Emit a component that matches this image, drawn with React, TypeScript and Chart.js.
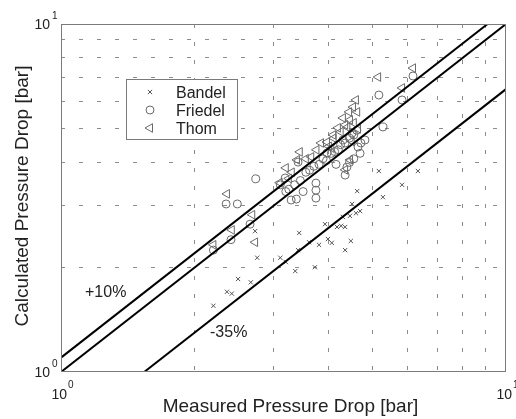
import React, { useEffect, useRef } from 'react';
import { Chart, registerables } from 'chart.js';
import { drawPoint } from 'chart.js/helpers';

Chart.register(...registerables);

// ---- Data ----
const bandelX = [2.20, 2.36, 2.42, 2.50, 2.67, 2.73, 2.76, 3.11, 3.20, 3.36, 3.72, 3.43, 3.41, 3.61, 3.80, 3.92, 3.98, 4.06, 4.17, 4.26, 4.35, 4.48, 4.35, 4.51, 4.63, 4.30, 4.46, 4.60, 4.70, 5.18, 6.34, 5.84, 5.29];
const bandelY = [1.55, 1.70, 1.68, 1.85, 1.81, 2.54, 2.13, 2.13, 2.07, 1.95, 2.00, 2.51, 2.24, 2.36, 2.32, 2.66, 2.41, 2.35, 2.61, 2.63, 2.61, 2.38, 2.24, 3.04, 3.31, 2.79, 2.81, 2.86, 2.90, 3.78, 3.78, 3.45, 3.18];

const friedelX = [2.35, 2.49, 2.74, 2.20, 2.41, 2.66, 3.38, 3.74, 3.74, 3.74, 3.41, 3.96, 4.30, 4.51, 4.82, 4.72, 4.65, 4.39, 4.35, 5.18, 5.29, 5.84, 6.18, 3.11, 3.19, 3.29, 3.25, 3.35, 3.45, 3.55, 3.62, 3.70, 3.80, 3.88, 3.95, 4.05, 4.12, 4.20, 4.25, 4.35, 4.45, 4.55, 4.62, 4.70, 4.55, 4.45, 4.15, 3.50, 3.20];
const friedelY = [3.04, 3.04, 3.59, 2.24, 2.40, 2.66, 3.14, 3.49, 3.33, 3.16, 4.01, 4.26, 4.64, 4.86, 4.64, 4.55, 4.43, 3.88, 3.68, 6.25, 5.06, 6.05, 7.09, 3.45, 3.61, 3.12, 3.35, 3.45, 3.55, 3.75, 3.80, 3.90, 3.95, 4.10, 4.05, 4.25, 4.30, 4.35, 4.50, 4.55, 4.70, 4.80, 4.95, 4.25, 4.10, 4.00, 3.95, 3.30, 3.30];

const thomX = [2.36, 2.20, 2.42, 2.69, 2.73, 3.20, 3.44, 3.39, 3.84, 3.96, 4.09, 4.19, 4.30, 4.35, 4.46, 4.53, 4.60, 4.63, 4.44, 4.35, 4.46, 5.16, 5.84, 6.18, 3.10, 3.30, 3.55, 3.65, 3.75, 4.00, 4.10, 4.25, 4.40, 4.55, 4.65, 3.25, 4.05, 4.50];
const thomY = [3.25, 2.32, 2.56, 2.83, 2.36, 3.86, 4.29, 4.07, 4.55, 4.58, 4.80, 5.03, 5.37, 5.13, 5.30, 5.77, 6.05, 5.59, 5.59, 3.81, 4.07, 7.04, 6.55, 7.47, 3.50, 3.75, 4.10, 4.15, 4.35, 4.45, 4.70, 4.90, 5.05, 5.20, 5.00, 3.60, 4.40, 4.60];

// Reference lines (+10%, exact, -35%)
const plus10X = [1, 9.09];
const plus10Y = [1.1, 10];
const exactX = [1, 10];
const exactY = [1, 10];
const minus35X = [1.538, 10];
const minus35Y = [1, 6.5];

// Axes
const axisMin = 1;
const axisMax = 10;
const gridValues = [1, 2, 3, 4, 5, 6, 7, 8, 9, 10];
const tickValues = [1, 10];
const tickExponents = ['0', '1'];

const seriesNames = ['Bandel', 'Friedel', 'Thom'];
const xTitle = 'Measured Pressure Drop [bar]';
const yTitle = 'Calculated Pressure Drop [bar]';
const annotations = ['+10%', '-35%'];

const toPoints = (xs: number[], ys: number[]) => xs.map((x, i) => ({ x, y: ys[i] }));

const FONT = '"Liberation Sans", Arial, Helvetica, sans-serif';
const MARK = '#6a6a6a';

const markerStyles = [
  { pointStyle: 'crossRot', radius: 3, rotation: 0, borderWidth: 1, color: '#555' },
  { pointStyle: 'circle', radius: 4, rotation: 0, borderWidth: 1, color: MARK },
  { pointStyle: 'triangle', radius: 5, rotation: -90, borderWidth: 1, color: MARK },
];

const overlayPlugin = {
  id: 'overlay',
  afterDraw(chart: any) {
    const { ctx, chartArea, scales } = chart;
    const xs = scales.x;
    const ys = scales.y;
    ctx.save();
    // plot box
    ctx.strokeStyle = '#7a7a7a';
    ctx.lineWidth = 1;
    ctx.setLineDash([]);
    ctx.strokeRect(Math.round(chartArea.left) + 0.5, Math.round(chartArea.top) + 0.5,
      Math.round(chartArea.right - chartArea.left) - 1, Math.round(chartArea.bottom - chartArea.top) - 1);

    ctx.fillStyle = '#222';
    // x tick labels
    tickValues.forEach((v, i) => {
      const px = xs.getPixelForValue(v);
      ctx.font = `14px ${FONT}`;
      ctx.textAlign = 'right';
      ctx.textBaseline = 'alphabetic';
      ctx.fillText('10', px + 6, chartArea.bottom + 27);
      ctx.font = `10px ${FONT}`;
      ctx.textAlign = 'left';
      ctx.fillText(tickExponents[i], px + 7, chartArea.bottom + 16);
    });
    // y tick labels
    tickValues.forEach((v, i) => {
      const py = ys.getPixelForValue(v);
      ctx.font = `14px ${FONT}`;
      ctx.textAlign = 'right';
      ctx.textBaseline = 'alphabetic';
      ctx.fillText('10', chartArea.left - 11, py + 5);
      ctx.font = `10px ${FONT}`;
      ctx.textAlign = 'left';
      ctx.fillText(tickExponents[i], chartArea.left - 9, py - 5);
    });

    // axis titles
    ctx.font = `19px ${FONT}`;
    ctx.textAlign = 'center';
    ctx.textBaseline = 'alphabetic';
    ctx.fillText(xTitle, (chartArea.left + chartArea.right) / 2 + 7, chartArea.bottom + 40);
    ctx.save();
    ctx.translate(28, (chartArea.top + chartArea.bottom) / 2 - 2);
    ctx.rotate(-Math.PI / 2);
    ctx.fillText(yTitle, 0, 0);
    ctx.restore();

    // annotations
    ctx.font = `16px ${FONT}`;
    ctx.textAlign = 'left';
    ctx.fillText(annotations[0], 85, 297);
    ctx.fillText(annotations[1], 210, 337);

    // legend
    const lx = 126, ly = 79, lw = 111, lh = 60;
    ctx.fillStyle = '#fff';
    ctx.fillRect(lx, ly, lw, lh);
    ctx.strokeStyle = '#7a7a7a';
    ctx.strokeRect(lx + 0.5, ly + 0.5, lw, lh);
    const rowY = [92, 110, 128];
    seriesNames.forEach((name, i) => {
      const m = markerStyles[i];
      ctx.strokeStyle = m.color;
      ctx.fillStyle = 'rgba(0,0,0,0)';
      ctx.lineWidth = m.borderWidth;
      drawPoint(ctx, { pointStyle: m.pointStyle, radius: m.radius, rotation: m.rotation, borderWidth: m.borderWidth } as any, 150, rowY[i]);
      ctx.fillStyle = '#222';
      ctx.font = `16px ${FONT}`;
      ctx.textAlign = 'left';
      ctx.textBaseline = 'alphabetic';
      ctx.fillText(name, 176, rowY[i] + 6);
    });
    ctx.restore();
  },
};

export default function App() {
  const canvasRef = useRef<HTMLCanvasElement | null>(null);

  useEffect(() => {
    document.body.style.margin = '0';
    const canvas = canvasRef.current;
    if (!canvas) return;

    const scatterSets = [
      { label: seriesNames[0], data: toPoints(bandelX, bandelY) },
      { label: seriesNames[1], data: toPoints(friedelX, friedelY) },
      { label: seriesNames[2], data: toPoints(thomX, thomY) },
    ].map((d, i) => ({
      type: 'scatter' as const,
      label: d.label,
      data: d.data,
      pointStyle: markerStyles[i].pointStyle as any,
      pointRadius: markerStyles[i].radius,
      pointRotation: markerStyles[i].rotation,
      pointBorderWidth: markerStyles[i].borderWidth,
      pointBorderColor: markerStyles[i].color,
      pointBackgroundColor: 'rgba(0,0,0,0)',
      showLine: false,
      order: 2,
    }));

    const lineSets = [
      toPoints(plus10X, plus10Y),
      toPoints(exactX, exactY),
      toPoints(minus35X, minus35Y),
    ].map((pts, i) => ({
      type: 'line' as const,
      label: 'ref' + i,
      data: pts,
      borderColor: '#000',
      borderWidth: 2,
      pointRadius: 0,
      fill: false,
      tension: 0,
      order: 1,
    }));

    const gridColor = (c: any) => {
      const v = c.tick && c.tick.value;
      return v === axisMin || v === axisMax ? 'rgba(0,0,0,0)' : '#8c8c8c';
    };

    const scaleOpts = {
      type: 'logarithmic' as const,
      min: axisMin,
      max: axisMax,
      afterBuildTicks: (axis: any) => {
        axis.ticks = gridValues.map((v) => ({ value: v }));
      },
      ticks: { display: false },
      grid: { color: gridColor, lineWidth: 1, drawTicks: false },
      border: { display: false, dash: [4, 14] },
      title: { display: false },
    };

    const chart = new Chart(canvas, {
      type: 'scatter',
      data: { datasets: [...scatterSets, ...lineSets] as any },
      options: {
        responsive: false,
        animation: false,
        layout: { padding: { left: 61, top: 24, right: 10, bottom: 47 } },
        plugins: { legend: { display: false }, tooltip: { enabled: false } },
        scales: { x: scaleOpts as any, y: scaleOpts as any },
      },
      plugins: [overlayPlugin],
    });
    return () => chart.destroy();
  }, []);

  return <canvas ref={canvasRef} width={516} height={419} style={{ display: 'block' }} />;
}
